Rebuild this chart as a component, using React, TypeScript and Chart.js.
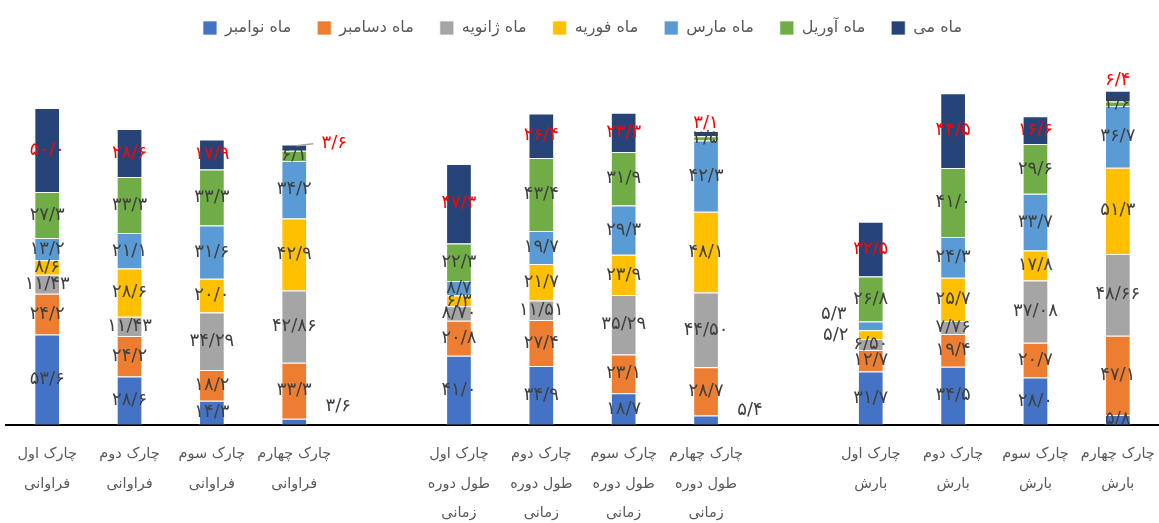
import React, { useEffect, useRef } from "react";
import { Chart, registerables } from "chart.js";

Chart.register(...registerables);

// ---------- data ----------
const categories: string[][] = [
  ["چارک اول", "فراوانی"],
  ["چارک دوم", "فراوانی"],
  ["چارک سوم", "فراوانی"],
  ["چارک چهارم", "فراوانی"],
  [""],
  ["چارک اول", "طول دوره", "زمانی"],
  ["چارک دوم", "طول دوره", "زمانی"],
  ["چارک سوم", "طول دوره", "زمانی"],
  ["چارک چهارم", "طول دوره", "زمانی"],
  [""],
  ["چارک اول", "بارش"],
  ["چارک دوم", "بارش"],
  ["چارک سوم", "بارش"],
  ["چارک چهارم", "بارش"],
];

const seriesNames = [
  "ماه نوامبر",
  "ماه دسامبر",
  "ماه ژانویه",
  "ماه فوریه",
  "ماه مارس",
  "ماه آوریل",
  "ماه می",
];

const november = [53.6, 28.6, 14.3, 3.6, null, 41.0, 34.9, 18.7, 5.4, null, 31.7, 34.5, 28.0, 5.8];
const december = [24.2, 24.2, 18.2, 33.3, null, 20.8, 27.4, 23.1, 28.7, null, 12.7, 19.4, 20.7, 47.1];
const january = [11.43, 11.43, 34.29, 42.86, null, 8.7, 11.51, 35.29, 44.5, null, 6.5, 7.76, 37.08, 48.66];
const february = [8.6, 28.6, 20.0, 42.9, null, 6.3, 21.7, 23.9, 48.1, null, 5.2, 25.7, 17.8, 51.3];
const march = [13.2, 21.1, 31.6, 34.2, null, 8.7, 19.7, 29.3, 42.3, null, 5.3, 24.3, 33.7, 36.7];
const april = [27.3, 33.3, 33.3, 6.1, null, 22.3, 43.4, 31.9, 2.5, null, 26.8, 41.0, 29.6, 2.6];
const may = [50.0, 28.6, 17.9, 3.6, null, 47.3, 26.4, 23.3, 3.1, null, 32.5, 44.5, 16.6, 6.4];

const seriesValues = [november, december, january, february, march, april, may];
const seriesDecimals = [1, 1, 2, 1, 1, 1, 1];

// ---------- styles ----------
const seriesColors = ["#4472C4", "#ED7D31", "#A5A5A5", "#FFC000", "#5B9BD5", "#70AD47", "#264478"];
const labelColors = ["#404040", "#404040", "#404040", "#404040", "#404040", "#404040", "#FF0000"];
const FONT = "'DejaVu Sans', sans-serif";

// special label placements: series, index, mode, offsets
const placements = [
  { s: 0, i: 3, mode: "center", dx: 44, dy: -15 },
  { s: 6, i: 3, mode: "center", dx: 40, dy: -4, leader: true },
  { s: 0, i: 8, mode: "center", dx: 44, dy: -10 },
  { s: 6, i: 8, mode: "top", dx: 0, dy: -8 },
  { s: 6, i: 13, mode: "top", dx: 0, dy: -10 },
  { s: 3, i: 10, mode: "center", dx: -35, dy: 1 },
  { s: 4, i: 10, mode: "center", dx: -37, dy: -12 },
];

const toPersian = (v: number, d: number) =>
  v
    .toFixed(d)
    .replace(".", "/")
    .replace(/\d/g, (c) => "۰۱۲۳۴۵۶۷۸۹"[Number(c)]);

const segmentLabels = {
  id: "segmentLabels",
  afterDatasetsDraw(chart: any) {
    const ctx = chart.ctx;
    ctx.save();
    ctx.font = `18px ${FONT}`;
    ctx.textAlign = "center";
    ctx.textBaseline = "middle";
    chart.data.datasets.forEach((ds: any, di: number) => {
      const meta = chart.getDatasetMeta(di);
      meta.data.forEach((bar: any, i: number) => {
        const v = ds.data[i];
        if (v == null) return;
        const { x, y, base } = bar.getProps(["x", "y", "base"], true);
        let lx = x;
        let ly = (y + base) / 2;
        const p = placements.find((q) => q.s === di && q.i === i);
        if (p) {
          if (p.mode === "top") ly = Math.min(y, base);
          lx += p.dx;
          ly += p.dy;
          if (p.leader) {
            ctx.strokeStyle = "#A6A6A6";
            ctx.lineWidth = 1.5;
            ctx.beginPath();
            ctx.moveTo(x + 2, ly + 2);
            ctx.lineTo(x + 19, ly);
            ctx.stroke();
          }
        }
        ctx.fillStyle = labelColors[di];
        ctx.fillText(toPersian(v, seriesDecimals[di]), lx, ly);
      });
    });
    ctx.restore();
  },
};

export default function App() {
  const ref = useRef<HTMLCanvasElement>(null);
  useEffect(() => {
    if (!ref.current) return;
    const chart = new Chart(ref.current, {
      type: "bar",
      data: {
        labels: categories,
        datasets: seriesNames.map((name, k) => ({
          label: name,
          data: seriesValues[k],
          backgroundColor: seriesColors[k],
          borderColor: "rgba(255,255,255,0.7)",
          borderWidth: 1,
          categoryPercentage: 1,
          barPercentage: 0.312,
        })),
      },
      options: {
        responsive: false,
        animation: false,
        layout: { padding: { top: -6, left: 6, right: 0, bottom: -20 } },
        plugins: {
          legend: {
            position: "top",
            labels: {
              boxWidth: 14,
              boxHeight: 14,
              padding: 26,
              color: "#595959",
              font: { family: FONT, size: 16 },
            },
          },
          tooltip: { enabled: false },
        },
        scales: {
          x: {
            stacked: true,
            grid: { display: false, drawTicks: false },
            border: { display: true, color: "#000000", width: 2 },
            ticks: {
              color: "#595959",
              font: { family: FONT, size: 14.5, lineHeight: 2.03 },
              padding: 15,
              maxRotation: 0,
              autoSkip: false,
            },
            afterFit: (scale: any) => {
              scale.paddingLeft = 0;
              scale.paddingRight = 0;
            },
          },
          y: {
            stacked: true,
            display: false,
            min: 0,
            max: 225.2,
          },
        },
      },
      plugins: [segmentLabels],
    });
    return () => chart.destroy();
  }, []);
  return (
    <div style={{ position: "absolute", left: 0, top: 0, width: 1159, height: 523 }}>
      <canvas ref={ref} width={1159} height={523} />
    </div>
  );
}
